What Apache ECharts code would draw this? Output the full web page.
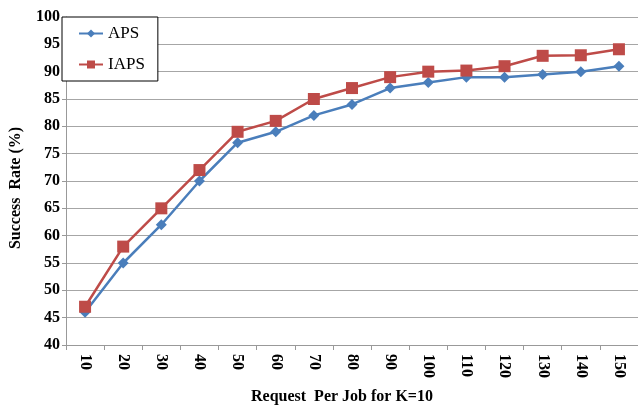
<!DOCTYPE html>
<html><head><meta charset="utf-8">
<script src="https://cdn.jsdelivr.net/npm/echarts@6/dist/echarts.min.js"></script>
<style>html,body{margin:0;padding:0;background:#fff}#c{width:638px;height:410px}</style>
</head><body><div id="c"></div>
<script>
const categories = ['10','20','30','40','50','60','70','80','90','100','110','120','130','140','150'];
const apsValues = [46, 55, 62, 70, 77, 79, 82, 84, 87, 88, 89, 89, 89.5, 90, 91];
const iapsValues = [47, 58, 65, 72, 79, 81, 85, 87, 89, 90, 90.2, 91, 92.9, 93, 94.1];
const yTicks = [40, 45, 50, 55, 60, 65, 70, 75, 80, 85, 90, 95, 100];

const font = '"Liberation Serif", "Times New Roman", serif';
const chart = echarts.init(document.getElementById('c'), null, {renderer: 'canvas'});
chart.setOption({
  animation: false,
  backgroundColor: '#fff',
  grid: {left: 62, right: -3, top: 17, bottom: 58, containLabel: false},
  legend: {
    left: 62, top: 17,
    orient: 'vertical',
    padding: [8, 13, 8, 16],
    itemGap: 14,
    itemWidth: 24, itemHeight: 10,
    backgroundColor: '#fff',
    borderColor: '#000', borderWidth: 1,
    textStyle: {fontFamily: font, fontSize: 17, color: '#000'},
    data: ['APS', 'IAPS']
  },
  xAxis: {
    type: 'category',
    data: categories,
    boundaryGap: true,
    name: 'Request  Per Job for K=10',
    nameLocation: 'middle',
    nameGap: 44,
    nameTextStyle: {fontFamily: font, fontSize: 16, fontWeight: 'bold', color: '#000', padding: [0, 20, 0, 0]},
    axisLine: {lineStyle: {color: '#999', width: 1}},
    axisTick: {show: true, length: 5, lineStyle: {color: '#999'}},
    axisLabel: {rotate: -90, fontFamily: font, fontSize: 16, fontWeight: 'bold', color: '#000', margin: 9}
  },
  yAxis: {
    type: 'value',
    min: yTicks[0], max: yTicks[yTicks.length - 1], interval: 5,
    name: 'Success  Rate (%)',
    nameLocation: 'middle',
    nameGap: 42,
    nameRotate: 90,
    nameTextStyle: {fontFamily: font, fontSize: 16, fontWeight: 'bold', color: '#000', padding: [0, 14, 0, 0]},
    axisLine: {show: true, lineStyle: {color: '#999', width: 1}},
    axisTick: {show: true, length: 4, lineStyle: {color: '#999'}},
    splitLine: {show: true, lineStyle: {color: '#a6a6a6', width: 1}},
    axisLabel: {fontFamily: font, fontSize: 16, fontWeight: 'bold', color: '#000', margin: 6}
  },
  series: [
    {
      name: 'APS', type: 'line', data: apsValues,
      symbol: 'diamond', symbolSize: 11,
      lineStyle: {color: '#4a7ebb', width: 2.5},
      itemStyle: {color: '#4a7ebb'}
    },
    {
      name: 'IAPS', type: 'line', data: iapsValues,
      symbol: 'rect', symbolSize: 12,
      lineStyle: {color: '#be4b48', width: 2.5},
      itemStyle: {color: '#be4b48'}
    }
  ]
});
</script></body></html>
